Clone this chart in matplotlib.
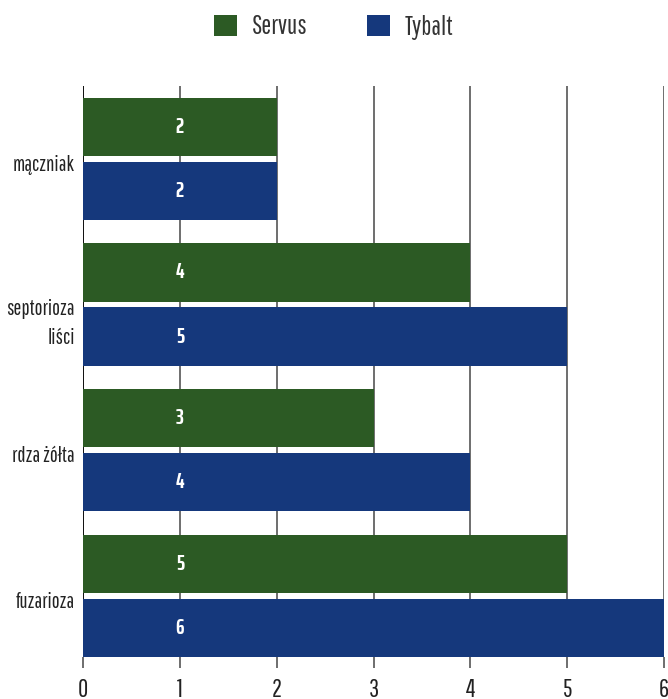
import matplotlib
matplotlib.use("Agg")
import matplotlib.pyplot as plt
import numpy as np
from matplotlib.patches import Patch
import matplotlib.transforms as mtransforms

categories = ["mączniak", "septorioza\nliści", "rdza żółta", "fuzarioza"]
servus = [2, 4, 3, 5]
tybalt = [2, 5, 4, 6]
series_names = ["Servus", "Tybalt"]
colors = ["#2c5a24", "#15387c"]
xticks = [0, 1, 2, 3, 4, 5, 6]

FONT = ["Pathway Gothic One", "DejaVu Sans"]
BOLD = ["Saira ExtraCondensed", "DejaVu Sans"]
plt.rcParams["font.family"] = FONT

fig = plt.figure(figsize=(6.68, 6.99), dpi=100)
ax = fig.add_axes([83 / 668, 1 - 657 / 699, (664 - 83) / 668, (657 - 86) / 699])

y = np.arange(len(categories))
h = 0.40
off = 0.22
for vals, sign, c in [(servus, -1, colors[0]), (tybalt, 1, colors[1])]:
    ax.barh(y + sign * off, vals, height=h, color=c, zorder=3)
    for yi, v in zip(y, vals):
        ax.text(1, yi + sign * off, str(v), ha="center", va="center",
                color="white", fontsize=15.5, fontweight="bold", family=BOLD, zorder=4)

ax.set_xlim(0, 6)
ax.set_ylim(3.42, -0.5)
ax.set_xticks(xticks)
ax.set_xticklabels([str(t) for t in xticks], fontsize=18, color="#222222")
ax.grid(axis="x", color="#555555", linewidth=1.2, zorder=0)
ax.axvline(0, color="#111111", linewidth=1.4, zorder=2)
ax.tick_params(axis="x", length=8, width=1.2, color="#555555", pad=7)
ax.set_yticks(y)
LS = 1.6
ax.set_yticklabels(categories, fontsize=15, color="#222222", va="baseline",
                   linespacing=LS)
ax.tick_params(axis="y", length=0, pad=6)
line_px = 28
for lab in ax.get_yticklabels():
    n = lab.get_text().count("\n")
    dy = -(12 + n * line_px) / 100
    lab.set_transform(lab.get_transform() +
                      mtransforms.ScaledTranslation(0, dy, fig.dpi_scale_trans))
for s in ax.spines.values():
    s.set_visible(False)

handles = [Patch(facecolor=c, edgecolor="none") for c in colors]
fig.legend(handles, series_names, loc="center", bbox_to_anchor=(0.5, 1 - 27 / 699),
           ncol=2, frameon=False, fontsize=19, handlelength=0.87, handleheight=0.87,
           handletextpad=0.57, columnspacing=2.23, labelcolor="#333333")

fig.savefig("out.png", dpi=100)
